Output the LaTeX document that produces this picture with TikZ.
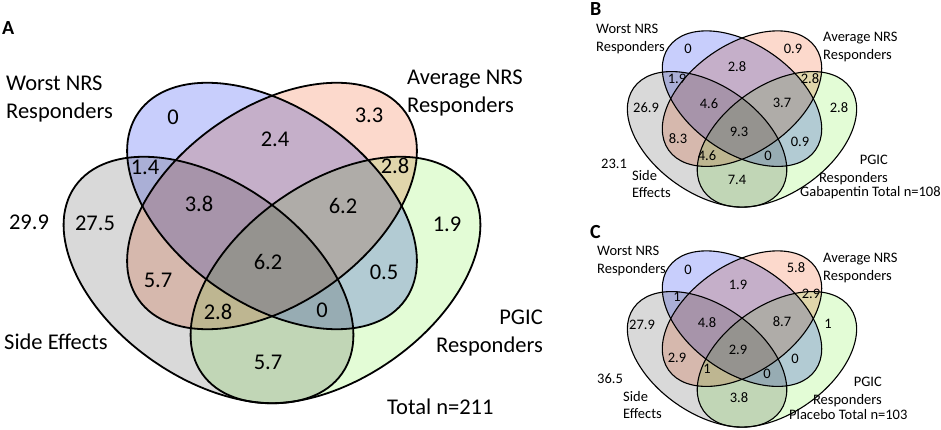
\documentclass[tikz,border=0pt]{standalone}
\usepackage{fontspec}
\setmainfont{Carlito}
\definecolor{setgray}{RGB}{217,217,217}
\definecolor{setgreen}{RGB}{227,252,214}
\definecolor{setorange}{RGB}{252,217,204}
\definecolor{setblue}{RGB}{200,206,252}
\newcommand{\vennsets}{%
	\begin{scope}[blend mode=multiply]
		\fill[setgray,rotate around={-35:(208.5,280)}] (208.5,280) ellipse [x radius=163pt,y radius=98pt];
		\fill[setgreen,rotate around={35:(335.5,280)}] (335.5,280) ellipse [x radius=163pt,y radius=98pt];
		\fill[setorange,rotate around={35:(272,206)}] (272,206) ellipse [x radius=163pt,y radius=98pt];
		\fill[setblue,rotate around={-35:(272,206)}] (272,206) ellipse [x radius=163pt,y radius=98pt];
	\end{scope}
	\draw[rotate around={-35:(208.5,280)}] (208.5,280) ellipse [x radius=163pt,y radius=98pt];
	\draw[rotate around={35:(335.5,280)}] (335.5,280) ellipse [x radius=163pt,y radius=98pt];
	\draw[rotate around={35:(272,206)}] (272,206) ellipse [x radius=163pt,y radius=98pt];
	\draw[rotate around={-35:(272,206)}] (272,206) ellipse [x radius=163pt,y radius=98pt];
}
\begin{document}
\begin{tikzpicture}[x=1pt,y=-1pt,
	bigtxt/.style={font=\fontsize{22.5}{27.5}\selectfont,inner sep=0pt,align=left},
	smalltxt/.style={font=\fontsize{14.5}{17.5}\selectfont,inner sep=0pt,align=left},
	paneltag/.style={font=\fontsize{20}{24}\selectfont\bfseries,inner sep=0pt,anchor=west}]
	\useasboundingbox (0,0) rectangle (941,430);
	\begin{scope}[line width=1.8pt]
		\vennsets
	\end{scope}
	\begin{scope}[line width=1.1pt,shift={(742,97)},scale=0.55,shift={(-272,-203)}]
		\vennsets
	\end{scope}
	\begin{scope}[line width=1.1pt,shift={(742,317)},scale=0.55,shift={(-272,-203)}]
		\vennsets
	\end{scope}
	\node[paneltag] (tagA) at (2,28) {A};
	\node[bigtxt,anchor=west] (aworst) at (6,99) {Worst NRS\\Responders};
	\node[bigtxt,anchor=west] (aavg) at (407,93) {Average NRS\\Responders};
	\node[bigtxt,anchor=west] (aside) at (4,342) {Side Effects};
	\node[bigtxt,anchor=east,align=right] (apgic) at (543,333) {PGIC\\Responders};
	\node[bigtxt,anchor=west] (atotal) at (387,407) {Total n=211};
	\node[bigtxt] (a1) at (29,222) {29.9};
	\node[bigtxt] (a2) at (95,223) {27.5};
	\node[bigtxt] (a3) at (173,117) {0};
	\node[bigtxt] (a4) at (369,115) {3.3};
	\node[bigtxt] (a5) at (275,139) {2.4};
	\node[bigtxt] (a6) at (145,167) {1.4};
	\node[bigtxt] (a7) at (395,166) {2.8};
	\node[bigtxt] (a8) at (199,204) {3.8};
	\node[bigtxt] (a9) at (343,206) {6.2};
	\node[bigtxt] (a10) at (447,224) {1.9};
	\node[bigtxt] (a11) at (268,262) {6.2};
	\node[bigtxt] (a12) at (158,280) {5.7};
	\node[bigtxt] (a13) at (384,272) {0.5};
	\node[bigtxt] (a14) at (218,312) {2.8};
	\node[bigtxt] (a15) at (322,310) {0};
	\node[bigtxt] (a16) at (268,362) {5.7};
	\node[paneltag] (tagB) at (590,9) {B};
	\node[smalltxt,anchor=west] (bworst) at (596,39) {Worst NRS\\Responders};
	\node[smalltxt,anchor=west] (bavg) at (823,47) {Average NRS\\Responders};
	\node[smalltxt,anchor=west] (bside) at (632,184) {Side\\Effects};
	\node[smalltxt,anchor=east,align=right] (bpgic) at (888,170) {PGIC\\Responders};
	\node[smalltxt,anchor=west] (btotal) at (800,193) {Gabapentin Total n=108};
	\node[smalltxt] (b1) at (614,164) {23.1};
	\node[smalltxt] (b2) at (646,108) {26.9};
	\node[smalltxt] (b3) at (688,49) {0};
	\node[smalltxt] (b4) at (793,49) {0.9};
	\node[smalltxt] (b5) at (737,67) {2.8};
	\node[smalltxt] (b6) at (677,79) {1.9};
	\node[smalltxt] (b7) at (810,79) {2.8};
	\node[smalltxt] (b8) at (709,104) {4.6};
	\node[smalltxt] (b9) at (782,103) {3.7};
	\node[smalltxt] (b10) at (839,108) {2.8};
	\node[smalltxt] (b11) at (739,132) {9.3};
	\node[smalltxt] (b12) at (678,139) {8.3};
	\node[smalltxt] (b13) at (800,142) {0.9};
	\node[smalltxt] (b14) at (707,156) {4.6};
	\node[smalltxt] (b15) at (768,156) {0};
	\node[smalltxt] (b16) at (737,180) {7.4};
	\node[paneltag] (tagC) at (590,232) {C};
	\node[smalltxt,anchor=west] (cworst) at (597,261) {Worst NRS\\Responders};
	\node[smalltxt,anchor=west] (cavg) at (823,268) {Average NRS\\Responders};
	\node[smalltxt,anchor=west] (cside) at (623,405) {Side\\Effects};
	\node[smalltxt,anchor=east,align=right] (cpgic) at (882,392) {PGIC\\Responders};
	\node[smalltxt,anchor=west] (ctotal) at (789,415) {Placebo Total n=103};
	\node[smalltxt] (c1) at (610,379) {36.5};
	\node[smalltxt] (c2) at (642,325) {27.9};
	\node[smalltxt] (c3) at (688,270) {0};
	\node[smalltxt] (c4) at (796,268) {5.8};
	\node[smalltxt] (c5) at (738,285) {1.9};
	\node[smalltxt] (c6) at (677,297) {1};
	\node[smalltxt] (c7) at (811,294) {2.9};
	\node[smalltxt] (c8) at (707,323) {4.8};
	\node[smalltxt] (c9) at (782,322) {8.7};
	\node[smalltxt] (c10) at (828,324) {1};
	\node[smalltxt] (c11) at (738,350) {2.9};
	\node[smalltxt] (c12) at (677,358) {2.9};
	\node[smalltxt] (c13) at (795,359) {0};
	\node[smalltxt] (c14) at (707,369) {1};
	\node[smalltxt] (c15) at (767,374) {0};
	\node[smalltxt] (c16) at (739,398) {3.8};
\end{tikzpicture}
\end{document}
